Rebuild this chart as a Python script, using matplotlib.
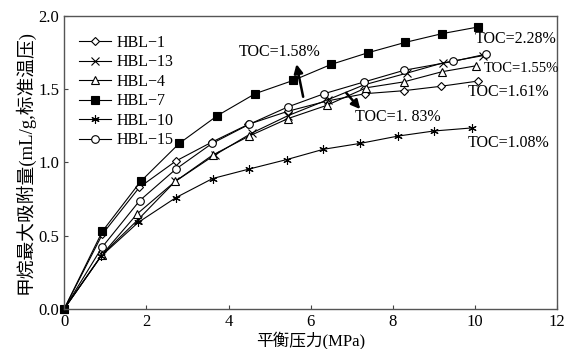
import matplotlib
matplotlib.use('Agg')
import matplotlib.pyplot as plt

plt.rcParams['font.family'] = ['Liberation Serif', 'Noto Sans CJK SC']
plt.rcParams['mathtext.fontset'] = 'stix'

# pressure (MPa) and adsorption (mL/g) per sample
p_1 = [0, 0.93, 1.83, 2.72, 3.6, 4.48, 5.45, 6.4, 7.33, 8.26, 9.16, 10.07]
v_1 = [0, 0.51, 0.83, 1.01, 1.14, 1.26, 1.35, 1.42, 1.47, 1.49, 1.52, 1.556]

p_13 = [0, 0.92, 1.8, 2.7, 3.66, 4.56, 5.45, 6.43, 7.3, 8.34, 9.22, 10.2]
v_13 = [0, 0.37, 0.61, 0.87, 1.05, 1.20, 1.32, 1.43, 1.53, 1.61, 1.68, 1.73]

p_4 = [0, 0.92, 1.78, 2.7, 3.61, 4.5, 5.45, 6.39, 7.35, 8.26, 9.2, 10.02]
v_4 = [0, 0.37, 0.65, 0.87, 1.05, 1.18, 1.30, 1.39, 1.51, 1.55, 1.62, 1.66]

p_7 = [0, 0.93, 1.86, 2.8, 3.73, 4.65, 5.57, 6.5, 7.4, 8.3, 9.2, 10.07]
v_7 = [0, 0.53, 0.87, 1.13, 1.32, 1.47, 1.56, 1.67, 1.75, 1.82, 1.88, 1.925]

p_10 = [0, 0.9, 1.8, 2.72, 3.61, 4.5, 5.42, 6.31, 7.2, 8.12, 9.0, 9.93]
v_10 = [0, 0.36, 0.59, 0.76, 0.89, 0.955, 1.02, 1.09, 1.13, 1.18, 1.215, 1.236]

p_15 = [0, 0.92, 1.84, 2.72, 3.6, 4.5, 5.45, 6.33, 7.3, 8.28, 9.46, 10.27]
v_15 = [0, 0.42, 0.74, 0.955, 1.13, 1.26, 1.38, 1.47, 1.55, 1.63, 1.69, 1.74]

fig = plt.figure(figsize=(5.68, 3.49), dpi=100)
ax = fig.add_axes([0.113, 0.115, 0.868, 0.839])

mk = dict(color='k', lw=0.8, mew=0.8, clip_on=False)
ax.plot(p_1, v_1, marker='D', mfc='white', ms=4.5, label='HBL−1', **mk)
ax.plot(p_13, v_13, marker='x', ms=5.5, label='HBL−13', **mk)
ax.plot(p_4, v_4, marker='^', mfc='white', ms=5.5, label='HBL−4', **mk)
ax.plot(p_10, v_10, marker=(6, 2, 0), ms=6, label='HBL−10', **mk)
ax.plot(p_15, v_15, marker='o', mfc='white', ms=5.5, label='HBL−15', **mk)
ax.plot(p_7, v_7, marker='s', mfc='k', ms=5.5, label='HBL−7', **mk)

fs = 11.5
ax.text(10.0, 1.84, 'TOC=2.28%', fontsize=fs, va='center')
ax.text(10.2, 1.64, 'TOC=1.55%', fontsize=10.5, va='center')
ax.text(9.83, 1.48, 'TOC=1.61%', fontsize=fs, va='center')
ax.text(9.83, 1.13, 'TOC=1.08%', fontsize=fs, va='center')
ax.text(4.24, 1.755, 'TOC=1.58%', fontsize=fs, va='center')
ax.text(7.08, 1.31, 'TOC=1. 83%', fontsize=fs, va='center')

arr = dict(arrowstyle='-|>', color='k', lw=1.8, mutation_scale=13)
ax.annotate('', xy=(5.64, 1.69), xytext=(5.83, 1.43), arrowprops=arr)
ax.annotate('', xy=(7.25, 1.35), xytext=(6.82, 1.49), arrowprops=arr)

ax.set_xlim(0, 12)
ax.set_ylim(0, 2.0)
ax.set_xticks(range(0, 13, 2))
ax.set_yticks([0, 0.5, 1.0, 1.5, 2.0])
ax.set_yticklabels(['0.0', '0.5', '1.0', '1.5', '2.0'])
ax.tick_params(direction='in', length=3, labelsize=12, width=0.8, color='#444')
for s in ax.spines.values():
    s.set_color('#555')
    s.set_linewidth(1.0)

ax.set_xlabel('平衡压力(MPa)', fontsize=12, labelpad=2)
ax.set_ylabel('甲烷最大吸附量(mL/g,标准温压)', fontsize=13.5, labelpad=3)

handles, labels = ax.get_legend_handles_labels()
order = ['HBL−1', 'HBL−13', 'HBL−4', 'HBL−7', 'HBL−10', 'HBL−15']
hl = {l: h for h, l in zip(handles, labels)}
ax.legend([hl[l] for l in order], order, loc='upper left', frameon=False,
          fontsize=11.5, handlelength=2.0, handletextpad=0.4, labelspacing=0.22,
          bbox_to_anchor=(0.0, 0.985))

fig.savefig('out.png', dpi=100)
